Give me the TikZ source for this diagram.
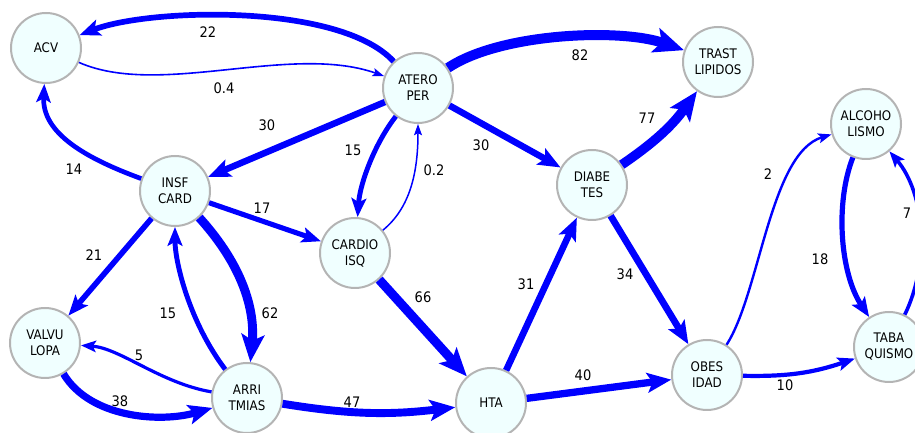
\documentclass[tikz,border=0pt]{standalone}
\usepackage{fontspec}
\setmainfont{DejaVu Sans Condensed}
\usetikzlibrary{arrows.meta}
\definecolor{nodefill}{HTML}{F0FFFF}
\definecolor{nodeline}{HTML}{B4B4B4}
\definecolor{edgeblue}{HTML}{0000FF}
\begin{document}
\begin{tikzpicture}[x=1pt,y=1pt,
  vtx/.style={circle, draw=nodeline, line width=2pt, fill=nodefill, minimum size=70pt, inner sep=0pt, align=center, font=\fontsize{13.2}{16}\selectfont},
  ed/.style={draw=edgeblue, line width=#1pt, -{Stealth[length=8pt 2.2, width=5pt 2, inset=1.5pt 0.5]}},
  lbl/.style={font=\fontsize{14.5}{16}\selectfont, inner sep=0pt}]
\useasboundingbox (0,0) rectangle (915,433);
\clip (0,0) rectangle (915,433);
% nodes
\node[vtx] (acv)    at (46,385)  {ACV};
\node[vtx] (atero)  at (418,345) {ATERO\\PER};
\node[vtx] (insf)   at (175,242) {INSF\\CARD};
\node[vtx] (trast)  at (718,371) {TRAST\\LIPIDOS};
\node[vtx] (diab)   at (592,248) {DIABE\\TES};
\node[vtx] (alco)   at (866,309) {ALCOHO\\LISMO};
\node[vtx] (cardio) at (355,180) {CARDIO\\ISQ};
\node[vtx] (valvu)  at (45,90)   {VALVU\\LOPA};
\node[vtx] (arri)   at (247,35)  {ARRI\\TMIAS};
\node[vtx] (hta)    at (491,30)  {HTA};
\node[vtx] (obes)   at (707,58)  {OBES\\IDAD};
\node[vtx] (taba)   at (889,86)  {TABA\\QUISMO};
% edges
\draw[ed=5.7] (atero) .. controls (340,430) and (150,425) .. (acv);
\draw[ed=1.6] (acv) .. controls (160,335) and (290,390) .. (atero);
\draw[ed=4.7] (insf) .. controls (85,275) and (42,300) .. (acv);
\draw[ed=6.5] (atero) -- (insf);
\draw[ed=4.9] (atero) .. controls (375,290) and (360,250) .. (cardio);
\draw[ed=1.5] (cardio) .. controls (410,225) and (418,260) .. (atero);
\draw[ed=5.1] (insf) -- (cardio);
\draw[ed=5.6] (insf) -- (valvu);
\draw[ed=4.9] (arri) .. controls (190,110) and (175,170) .. (insf);
\draw[ed=8.9] (insf) .. controls (245,165) and (255,120) .. (arri);
\draw[ed=3.2] (arri) .. controls (160,50) and (120,85) .. (valvu);
\draw[ed=7.2] (valvu) .. controls (90,15) and (160,10) .. (arri);
\draw[ed=7.9] (arri) to[bend right=8] (hta);
\draw[ed=9.1] (cardio) -- (hta);
\draw[ed=6.6] (hta) -- (diab);
\draw[ed=6.8] (diab) -- (obes);
\draw[ed=7.3] (hta) -- (obes);
\draw[ed=4.2] (obes) to[bend right=10] (taba);
\draw[ed=2.4] (obes) .. controls (760,140) and (770,280) .. (alco);
\draw[ed=5.2] (alco) .. controls (835,230) and (840,160) .. (taba);
\draw[ed=3.6] (taba) .. controls (930,170) and (925,240) .. (alco);
\draw[ed=10] (atero) .. controls (500,400) and (620,405) .. (trast);
\draw[ed=6.5] (atero) -- (diab);
\draw[ed=9.5] (diab) to[bend right=10] (trast);
% labels
\node[lbl] (l22)  at (208,401) {22};
\node[lbl] (l04)  at (224,345) {0.4};
\node[lbl] (l14)  at (74,264)  {14};
\node[lbl] (l30a) at (267,308) {30};
\node[lbl] (l15a) at (353,283) {15};
\node[lbl] (l02)  at (434,263) {0.2};
\node[lbl] (l17)  at (262,225) {17};
\node[lbl] (l21)  at (94,178)  {21};
\node[lbl] (l15b) at (168,120) {15};
\node[lbl] (l62)  at (270,120) {62};
\node[lbl] (l5)   at (139,78)  {5};
\node[lbl] (l38)  at (120,32)  {38};
\node[lbl] (l47)  at (352,31)  {47};
\node[lbl] (l66)  at (423,136) {66};
\node[lbl] (l31)  at (526,149) {31};
\node[lbl] (l34)  at (625,159) {34};
\node[lbl] (l40)  at (583,58)  {40};
\node[lbl] (l10)  at (785,48)  {10};
\node[lbl] (l2)   at (768,259) {2};
\node[lbl] (l18)  at (820,174) {18};
\node[lbl] (l7)   at (907,220) {7};
\node[lbl] (l82)  at (580,378) {82};
\node[lbl] (l30b) at (481,288) {30};
\node[lbl] (l77)  at (647,315) {77};
\end{tikzpicture}
\end{document}
